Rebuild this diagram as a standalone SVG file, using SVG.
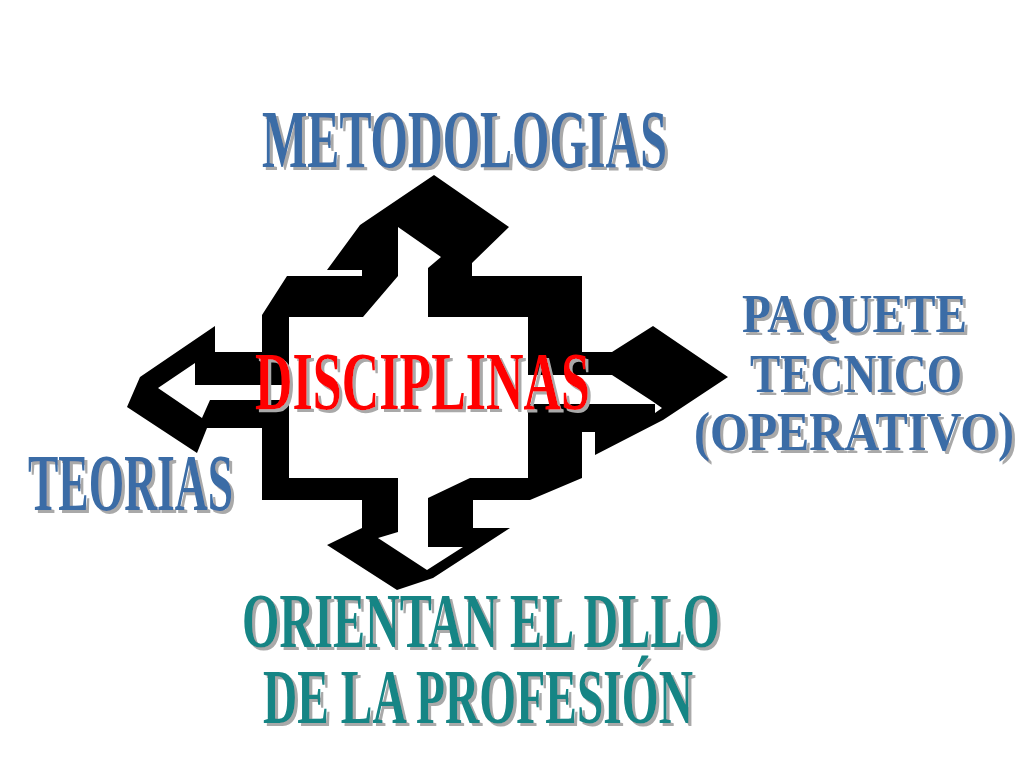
<svg xmlns="http://www.w3.org/2000/svg" width="1024" height="768" viewBox="0 0 1024 768">
  <defs>
    <style>
      .lbl { font-family: "Liberation Serif", "Times New Roman", serif; font-weight: bold; filter: url(#sh); }
      .blue { fill: #3a6ca6; }
      .teal { fill: #148585; }
      .red { fill: #ff0000; }
      .blk { fill: #000000; }
      .wht { fill: #ffffff; }
    </style>
    <filter id="sh" x="-5%" y="-10%" width="115%" height="130%">
      <feFlood flood-color="#a9a9a9"/>
      <feComposite in2="SourceAlpha" operator="in"/>
      <feOffset dx="3" dy="3" result="s"/>
      <feMerge><feMergeNode in="s"/><feMergeNode in="SourceGraphic"/></feMerge>
    </filter>
  </defs>
  <rect width="1024" height="768" fill="#ffffff"/>

  <g id="connectors">
    <polygon class="blk" points="434,175 509,227 472,263 472,276 582,276 582,352 612,352 653,326 728,377 663,420 595,455 595,432 582,432 582,478 530,500 473,500 473,528 510,528 433,578 397,590 327,545 362,528 362,500 262,500 262,428 207,428 197,453 127,407 140,377 215,326 215,352 262,352 262,315 287,276 362,276 362,270 327,270 360,225"/>
    <polygon class="wht" points="398,227 441,257 428,268 428,317 528,317 528,375 612,375 652,401 662,408 655,413 655,404 528,404 528,478 470,478 428,498 428,547 463,547 427,570 378,538 398,532 398,478 289,478 289,400 210,400 202,418 158,388 195,363 195,385 289,385 289,317 363,317 398,276"/>
  </g>

  <g id="node-metodologias">
    <text class="lbl blue" x="262" y="167" font-size="83" textLength="405" lengthAdjust="spacingAndGlyphs">METODOLOGIAS</text>
  </g>
  <g id="node-disciplinas">
    <text class="lbl red" x="255" y="409" font-size="83" textLength="335" lengthAdjust="spacingAndGlyphs">DISCIPLINAS</text>
  </g>
  <g id="node-teorias">
    <text class="lbl blue" x="28" y="510" font-size="80" textLength="205" lengthAdjust="spacingAndGlyphs">TEORIAS</text>
  </g>
  <g id="node-paquete">
    <text class="lbl blue" x="742" y="332" font-size="54" textLength="225" lengthAdjust="spacingAndGlyphs">PAQUETE</text>
    <text class="lbl blue" x="750" y="392" font-size="54" textLength="212" lengthAdjust="spacingAndGlyphs">TECNICO</text>
    <text class="lbl blue" x="694" y="450" font-size="54" textLength="320" lengthAdjust="spacingAndGlyphs">(OPERATIVO)</text>
  </g>
  <g id="node-orientan">
    <text class="lbl teal" x="242" y="647" font-size="78" textLength="478" lengthAdjust="spacingAndGlyphs">ORIENTAN EL DLLO</text>
    <text class="lbl teal" x="263" y="723" font-size="78" textLength="430" lengthAdjust="spacingAndGlyphs">DE LA PROFESIÓN</text>
  </g>
</svg>
